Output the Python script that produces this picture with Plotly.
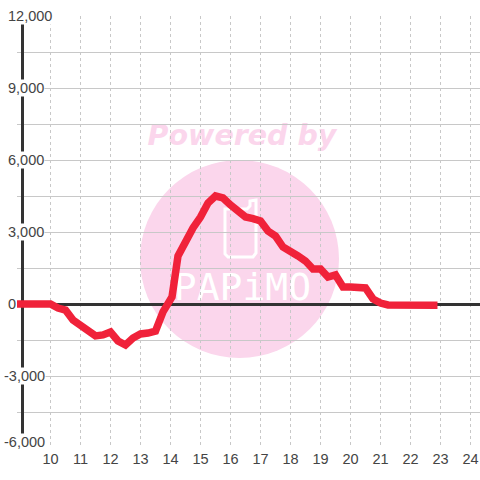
import plotly.graph_objects as go

hours = [8.88, 10, 10.25, 10.5, 10.75, 11, 11.25, 11.5, 11.75, 12, 12.25, 12.5, 12.75, 13, 13.25, 13.5, 13.75,
         14.05, 14.25, 14.5, 14.75, 15, 15.25, 15.5, 15.75, 16, 16.25, 16.5, 16.75, 17, 17.25, 17.5, 17.75,
         18, 18.25, 18.5, 18.75, 19, 19.25, 19.5, 19.75, 20, 20.25, 20.5, 20.75, 21, 21.25, 21.5, 21.75,
         22, 22.25, 22.5, 22.75, 22.9]
values = [0, 0, -170, -250, -670, -880, -1080, -1330, -1290, -1170, -1540, -1710, -1420, -1250, -1210, -1130, -330,
          290, 2000, 2625, 3170, 3625, 4210, 4500, 4420, 4125, 3830, 3625, 3560, 3460, 3040, 2830, 2375,
          2210, 2000, 1790, 1460, 1460, 1125, 1210, 710, 710, 690, 670, 210, 40, -40, -50, -50,
          -50, -50, -50, -50, -50]
y_ticks = [12000, 9000, 6000, 3000, 0, -3000, -6000]
y_labels = ["12,000", "9,000", "6,000", "3,000", "0", "-3,000", "-6,000"]
x_ticks = list(range(10, 25))
x_labels = [str(v) for v in x_ticks]

W, H = 480, 480
L, R, T, B = 17, 0, 16, 32
PINK = "#fbd6ec"
TEXT = "#444444"
GRID = "#c8c8c8"
AXIS = "#333333"


def px(v):
    return (v - L) / (W - L - R)


def py(v):
    return 1 - (v - T) / (H - T - B)


def label_box(x0, y0, x1, y1, text, family, size, color):
    return dict(type="rect", xref="paper", yref="paper", layer="below",
                x0=px(x0), x1=px(x1), y0=py(y1), y1=py(y0),
                line=dict(width=0), fillcolor="rgba(0,0,0,0)",
                label=dict(text=text, font=dict(family=family, size=size, color=color),
                           textposition="middle center"))


phone = [(225, 209), (247, 209), (250, 206), (250, 201), (256, 200), (256, 253), (253, 257), (228, 257), (225, 254)]
phone_path = "M " + " L ".join(f"{px(a):.5f},{py(b):.5f}" for a, b in phone) + " Z"

shapes = [
    dict(type="circle", xref="paper", yref="paper", layer="below",
         x0=px(140), x1=px(339), y0=py(358), y1=py(160), fillcolor=PINK, line=dict(width=0)),
    dict(type="path", xref="paper", yref="paper", layer="below", path=phone_path,
         fillcolor="rgba(0,0,0,0)", line=dict(color="white", width=3)),
    label_box(140, 116, 344, 150, "<b><i>Powered by</i></b>", "DejaVu Sans", 28.5, PINK),
    label_box(170, 264, 315, 304, "PAPiMO", "DejaVu Sans Mono", 38, "white"),
    dict(type="rect", xref="paper", yref="paper", layer="between",
         x0=px(16), x1=px(19), y0=-0.01, y1=1.01, fillcolor="white", line=dict(width=0)),
]

annotations = []
for v, t in zip(y_ticks, y_labels):
    annotations.append(dict(
        x=px(3 if t.startswith("-") else 7), xref="paper", y=v, yref="y",
        xanchor="left", yanchor="middle", text=t, showarrow=False,
        yshift=6 if v == -6000 else 0,
        font=dict(family="Liberation Sans", size=14.5, color=TEXT),
        bgcolor=None if v == 0 else "white", borderpad=0,
    ))

fig = go.Figure(go.Scatter(
    x=hours, y=values, mode="lines", cliponaxis=False,
    line=dict(color="#f0223a", width=7.5, shape="linear"),
    hoverinfo="skip",
))
fig.update_layout(
    width=W, height=H, margin=dict(l=L, r=R, t=T, b=B, pad=0),
    paper_bgcolor="white", plot_bgcolor="rgba(0,0,0,0)",
    showlegend=False, shapes=shapes, annotations=annotations,
    xaxis=dict(range=[8.883, 24.317], tickmode="array", tickvals=x_ticks, ticktext=x_labels,
               showgrid=True, gridcolor=GRID, griddash="3px,3px", gridwidth=1,
               zeroline=False, showline=False, ticks="", ticklen=0,
               tickfont=dict(family="Liberation Sans", size=14.5, color=TEXT), automargin=False),
    yaxis=dict(range=[-6000, 12000], tick0=0, dtick=1500, showticklabels=False,
               showgrid=True, gridcolor=GRID, gridwidth=1,
               zeroline=True, zerolinecolor=AXIS, zerolinewidth=3,
               showline=True, linecolor=AXIS, linewidth=3, ticks="", automargin=False,
               anchor="free", position=px(22), layer="below traces"),
)
fig.write_html("out.html", config={"displayModeBar": False},
               post_script="document.body.style.margin='0';document.body.style.overflow='hidden';")
